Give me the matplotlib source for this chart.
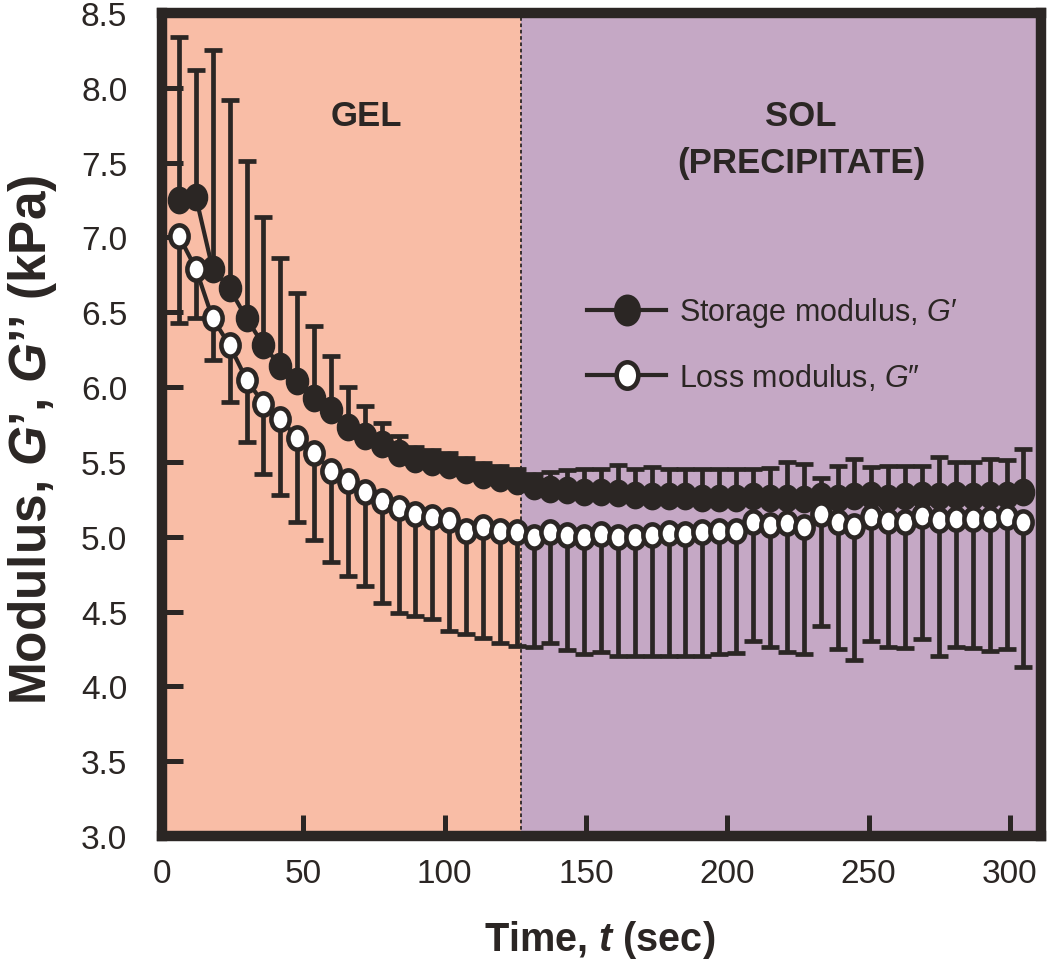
import matplotlib
matplotlib.use('Agg')
import matplotlib.pyplot as plt
from matplotlib.lines import Line2D
from matplotlib.path import Path
from matplotlib.transforms import Affine2D
import numpy as np

# ---------------- data ----------------
TIME = [6.0, 12.0, 17.9, 23.9, 29.9, 35.9, 41.8, 47.8, 53.8, 59.8, 65.7, 71.7, 77.7,
        83.7, 89.6, 95.6, 101.6, 107.6, 113.5, 119.5, 125.5, 131.5, 137.4, 143.4,
        149.4, 155.4, 161.3, 167.3, 173.3, 179.3, 185.2, 191.2, 197.2, 203.2, 209.1,
        215.1, 221.1, 227.1, 233.0, 239.0, 245.0, 251.0, 256.9, 262.9, 268.9, 274.9,
        280.8, 286.8, 292.8, 298.8, 304.7]

G_STORAGE = [7.25, 7.27, 6.79, 6.66, 6.46, 6.28, 6.14, 6.04, 5.93, 5.85, 5.73, 5.67,
             5.62, 5.56, 5.52, 5.50, 5.48, 5.445, 5.41, 5.39, 5.37, 5.34, 5.32, 5.31,
             5.30, 5.30, 5.29, 5.28, 5.27, 5.27, 5.27, 5.26, 5.26, 5.26, 5.27, 5.26,
             5.26, 5.25, 5.27, 5.26, 5.27, 5.28, 5.26, 5.27, 5.28, 5.27, 5.28, 5.27,
             5.28, 5.28, 5.30]
G_STORAGE_ERR = [1.09, 0.85, 1.46, 1.26, 1.05, 0.86, 0.72, 0.59, 0.48, 0.36, 0.27, 0.205,
                 0.14, 0.11, 0.08, 0.08, 0.08, 0.08, 0.08, 0.08, 0.08, 0.08, 0.11, 0.135,
                 0.15, 0.155, 0.19, 0.175, 0.195, 0.185, 0.185, 0.195, 0.195, 0.195, 0.185,
                 0.20, 0.24, 0.235, 0.125, 0.21, 0.25, 0.185, 0.21, 0.20, 0.19, 0.265,
                 0.22, 0.23, 0.24, 0.23, 0.285]

G_LOSS = [7.01, 6.79, 6.46, 6.28, 6.05, 5.89, 5.79, 5.66, 5.56, 5.44, 5.37, 5.30, 5.24,
          5.19, 5.155, 5.13, 5.11, 5.04, 5.065, 5.04, 5.03, 5.00, 5.03, 5.01, 4.995,
          5.015, 5.00, 5.00, 5.01, 5.025, 5.02, 5.03, 5.04, 5.04, 5.10, 5.08, 5.09,
          5.065, 5.155, 5.10, 5.075, 5.13, 5.105, 5.10, 5.14, 5.115, 5.12, 5.12, 5.12,
          5.135, 5.10]
G_LOSS_ERR = [0.58, 0.33, 0.28, 0.38, 0.42, 0.47, 0.51, 0.56, 0.58, 0.61, 0.63, 0.63,
              0.68, 0.70, 0.685, 0.68, 0.74, 0.69, 0.745, 0.75, 0.76, 0.74, 0.74, 0.77,
              0.78, 0.785, 0.80, 0.80, 0.81, 0.825, 0.82, 0.825, 0.825, 0.815, 0.80,
              0.82, 0.86, 0.85, 0.75, 0.85, 0.90, 0.825, 0.845, 0.845, 0.825, 0.915,
              0.855, 0.865, 0.885, 0.885, 0.97]

X_TICKS = [0, 50, 100, 150, 200, 250, 300]
Y_TICKS = [3.0, 3.5, 4.0, 4.5, 5.0, 5.5, 6.0, 6.5, 7.0, 7.5, 8.0, 8.5]
GEL_SOL_BOUNDARY = 127
X_MAX = 311
LABELS = ["Storage modulus, $\\mathit{G}$\u2032", "Loss modulus, $\\mathit{G}$\u2033"]

# ---------------- style ----------------
DARK = '#2B2624'
GEL_COLOR = '#F9BDA6'
SOL_COLOR = '#C5A8C5'
REG = ['Liberation Sans', 'DejaVu Sans']

plt.rcParams['font.family'] = REG
plt.rcParams['mathtext.fontset'] = 'custom'
plt.rcParams['mathtext.rm'] = 'Liberation Sans'
plt.rcParams['mathtext.it'] = 'Liberation Sans:italic'
plt.rcParams['mathtext.bf'] = 'Liberation Sans:bold'
plt.rcParams['mathtext.bfit'] = 'Liberation Sans:bold:italic'

# slightly tall elliptical marker, as in the reference
ELLIPSE = Path.unit_circle().transformed(Affine2D().scale(0.82, 1.0))

W, H = 1050, 978
fig = plt.figure(figsize=(W / 100, H / 100), dpi=100)
L, R, T, B = 162, 1041, 14, 837
ax = fig.add_axes([L / W, 1 - B / H, (R - L) / W, (B - T) / H])
ax.set_xlim(0, X_MAX)
ax.set_ylim(Y_TICKS[0], Y_TICKS[-1])

ax.axvspan(0, GEL_SOL_BOUNDARY, color=GEL_COLOR, lw=0, zorder=0)
ax.axvspan(GEL_SOL_BOUNDARY, X_MAX, color=SOL_COLOR, lw=0, zorder=0)
ax.axvline(GEL_SOL_BOUNDARY, color=DARK, lw=1.3, ls=(0, (2, 1.5)), zorder=1)

zeros = np.zeros(len(TIME))
eb_kw = dict(fmt='none', ecolor=DARK, elinewidth=3.4, capsize=6.5, capthick=3.4)
ax.errorbar(TIME, G_STORAGE, yerr=[zeros, G_STORAGE_ERR], zorder=2, **eb_kw)
ax.errorbar(TIME, G_LOSS, yerr=[G_LOSS_ERR, zeros], zorder=2, **eb_kw)
ax.plot(TIME, G_STORAGE, '-', marker=ELLIPSE, color=DARK, lw=3, ms=17, mfc=DARK,
        mec=DARK, mew=3, zorder=3)
ax.plot(TIME, G_LOSS, '-', marker=ELLIPSE, color=DARK, lw=3, ms=16, mfc='white',
        mec=DARK, mew=3.3, zorder=4)

ax.set_xticks(X_TICKS)
ax.set_yticks(Y_TICKS)
ax.set_xticklabels([str(v) for v in X_TICKS])
ax.set_yticklabels([f"{v:.1f}" for v in Y_TICKS])
ax.tick_params(direction='in', length=15, width=3.6, color=DARK, labelcolor=DARK,
               labelsize=24, top=False, right=False)
ax.tick_params(axis='x', pad=16)
ax.tick_params(axis='y', pad=25)
for s in ax.spines.values():
    s.set_linewidth(7.5)
    s.set_color(DARK)
    s.set_capstyle('projecting')
    s.set_zorder(6)

# region labels
fig.text(366 / W, 1 - 117 / H, 'GEL', ha='center', va='center', fontsize=25,
         fontweight='bold', color=DARK)
fig.text(801 / W, 1 - 116 / H, 'SOL', ha='center', va='center', fontsize=25,
         fontweight='bold', color=DARK)
fig.text(801 / W, 1 - 163 / H, '(PRECIPITATE)', ha='center', va='center', fontsize=25,
         fontweight='bold', color=DARK)

# axis titles
fig.text(600 / W, 1 - 940 / H, 'Time, $\\mathbfit{t}$ (sec)', ha='center', va='center',
         fontsize=28.5, fontweight='bold', color=DARK)
fig.text(33 / W, 1 - 440 / H, 'Modulus, $\\mathbfit{G}$\u2019, $\\mathbfit{G}$\u2019\u2019 (kPa)',
         ha='center', va='center', rotation=90, fontsize=37, fontweight='bold',
         color=DARK)

# legend
handles = [Line2D([], [], color=DARK, lw=3, marker=ELLIPSE, ms=20, mfc=DARK, mec=DARK, mew=3),
           Line2D([], [], color=DARK, lw=3, marker=ELLIPSE, ms=19, mfc='white', mec=DARK, mew=3.3)]
leg = ax.legend(handles, LABELS, loc='center left',
                bbox_to_anchor=((587 - L) / (R - L), (B - 345) / (B - T)),
                frameon=False, prop={'size': 22}, handlelength=2.6,
                handletextpad=0.42, labelspacing=1.05, borderpad=0, borderaxespad=0)
for t in leg.get_texts():
    t.set_color(DARK)
leg.set_zorder(7)

fig.savefig('out.png', dpi=100)
